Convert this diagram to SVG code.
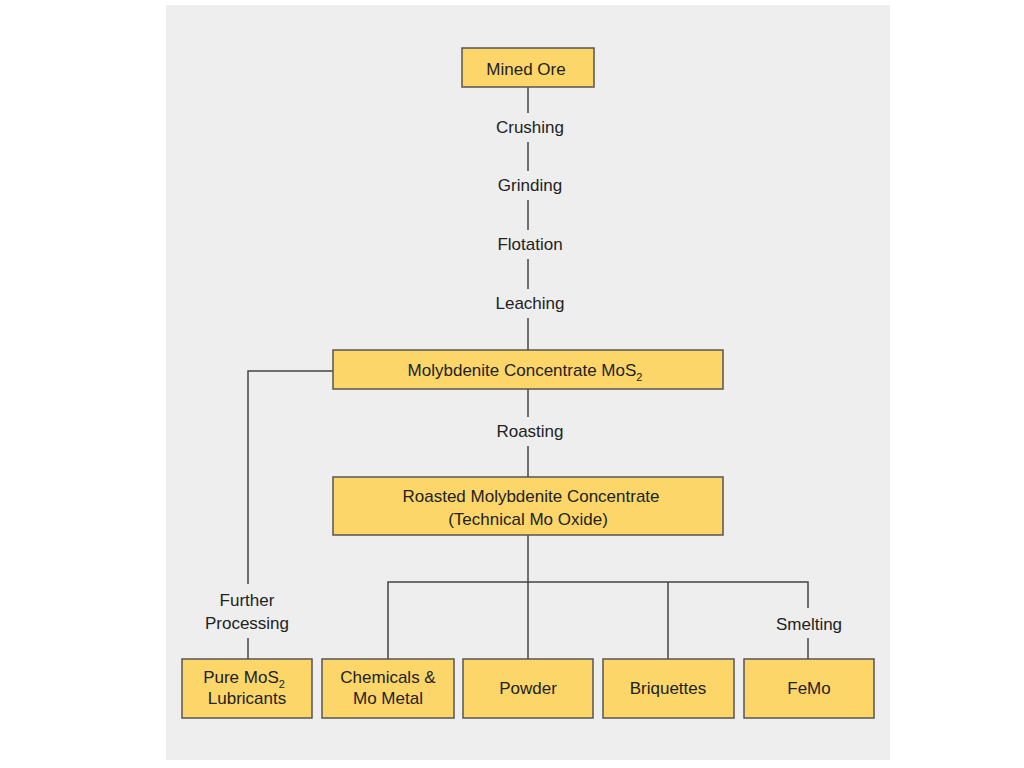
<svg xmlns="http://www.w3.org/2000/svg" width="1024" height="768" viewBox="0 0 1024 768">
<style>
.b{fill:#fcd669;stroke:#555;stroke-width:1.5}
.t{font-family:"Liberation Sans",Arial,sans-serif;font-size:17px;fill:#222;text-anchor:middle}
.c line,.c polyline{stroke:#444;stroke-width:1.5;fill:none}
.bg{fill:#fff}
</style>
<rect width="1024" height="768" fill="#fff"/>
<rect x="166" y="5" width="724" height="755" fill="#eeeeee"/>
<g class="c">
<line x1="528" y1="87" x2="528" y2="113"/><line x1="528" y1="142" x2="528" y2="171"/>
<line x1="528" y1="200" x2="528" y2="230"/><line x1="528" y1="259" x2="528" y2="289"/>
<line x1="528" y1="318" x2="528" y2="350"/>
<line x1="528" y1="389" x2="528" y2="417"/><line x1="528" y1="446" x2="528" y2="477"/>
<line x1="528" y1="535" x2="528" y2="659"/>
<polyline points="388,659 388,582 808,582 808,608"/>
<line x1="808" y1="638" x2="808" y2="659"/>
<line x1="668" y1="582" x2="668" y2="659"/>
<polyline points="333,371 248,371 248,584"/>
<line x1="248" y1="638" x2="248" y2="659"/>
</g>
<g class="t">
<text x="530" y="133">Crushing</text><text x="530" y="191">Grinding</text>
<text x="530" y="250">Flotation</text><text x="530" y="309">Leaching</text>
<text x="530" y="437">Roasting</text>
<text x="809" y="630">Smelting</text>
<text x="247" y="606">Further</text><text x="247" y="629">Processing</text>
</g>
<g id="mined"><rect class="b" x="462" y="48" width="132" height="39"/><text class="t" x="526" y="75">Mined Ore</text></g>
<g id="moly"><rect class="b" x="333" y="350" width="390" height="39"/><text class="t" x="525" y="376">Molybdenite Concentrate MoS<tspan font-size="11" dy="5">2</tspan></text></g>
<g id="roasted"><rect class="b" x="333" y="477" width="390" height="58"/><text class="t" x="531" y="502">Roasted Molybdenite Concentrate</text><text class="t" x="528" y="525">(Technical Mo Oxide)</text></g>
<g id="pure"><rect class="b" x="182" y="659" width="130" height="59"/><text class="t" x="244" y="683">Pure MoS<tspan font-size="11" dy="5">2</tspan></text><text class="t" x="247" y="704">Lubricants</text></g>
<g id="chem"><rect class="b" x="322" y="659" width="132" height="59"/><text class="t" x="388" y="683">Chemicals &amp;</text><text class="t" x="388" y="704">Mo Metal</text></g>
<g id="powder"><rect class="b" x="463" y="659" width="130" height="59"/><text class="t" x="528" y="694">Powder</text></g>
<g id="briq"><rect class="b" x="603" y="659" width="131" height="59"/><text class="t" x="668" y="694">Briquettes</text></g>
<g id="femo"><rect class="b" x="744" y="659" width="130" height="59"/><text class="t" x="809" y="694">FeMo</text></g>
</svg>
